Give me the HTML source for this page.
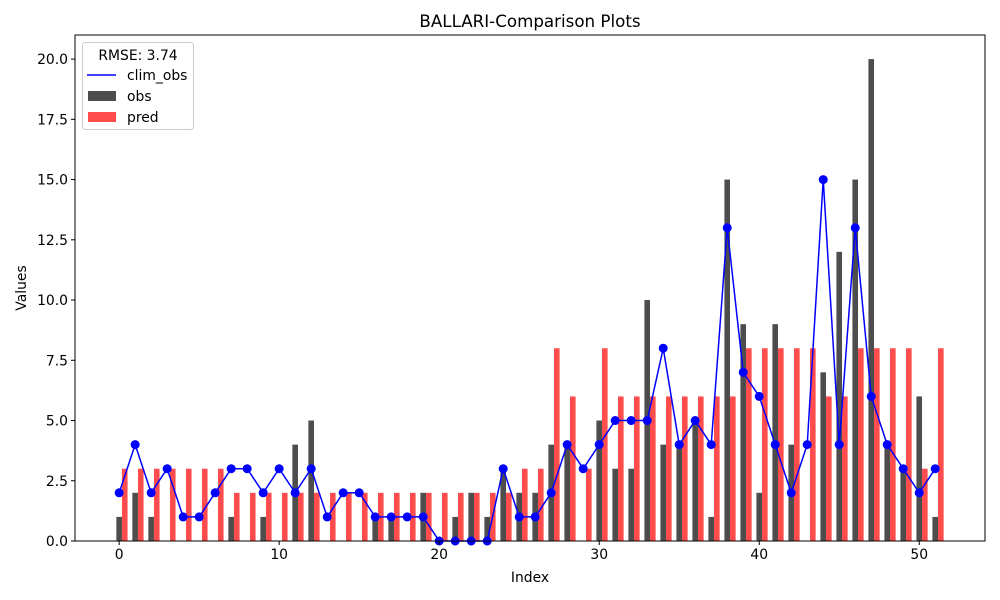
<!DOCTYPE html>
<html><head><meta charset="utf-8"><style>
body{margin:0;background:#fff;}
svg{display:block;font-family:"DejaVu Sans","Liberation Sans",sans-serif;}
</style></head><body>
<svg id="chart" width="1000" height="600" viewBox="0 0 1000 600">
<rect width="1000" height="600" fill="#fff"/>
<text x="530" y="27" text-anchor="middle" font-size="16.7" fill="#000">BALLARI-Comparison Plots</text>
<g id="bars"></g>
<g id="line"></g>
<rect x="75" y="35" width="910" height="506" fill="none" stroke="#000" stroke-width="1"/>
<g id="xticks"></g>
<g id="yticks"></g>
<text x="530" y="582" text-anchor="middle" font-size="13.9">Index</text>
<text x="26" y="288" text-anchor="middle" font-size="13.9" transform="rotate(-90 26 288)">Values</text>
<g>
<rect x="82.5" y="42.5" width="111" height="87" rx="3" fill="#fff" fill-opacity="0.8" stroke="#ccc"/>
<text x="138" y="60" text-anchor="middle" font-size="13.9">RMSE: 3.74</text>
<line x1="87" y1="75" x2="116" y2="75" stroke="#0000ff" stroke-width="1.5"/>
<text x="127" y="80" font-size="13.9">clim_obs</text>
<rect x="88" y="91" width="28" height="10" fill="#4d4d4d"/>
<text x="127" y="101" font-size="13.9">obs</text>
<rect x="88" y="112" width="28" height="10" fill="#ff4d4d"/>
<text x="127" y="122" font-size="13.9">pred</text>
</g>
</svg>
<script>
const obs=[1,2,1,0,0,0,0,1,0,1,0,4,5,0,0,0,1,1,0,2,0,1,2,1,3,2,2,4,4,0,5,3,3,10,4,4,5,1,15,9,2,9,4,0,7,12,15,20,4,3,6,1];
const pred=[3,3,3,3,3,3,3,2,2,2,2,2,2,2,2,2,2,2,2,2,2,2,2,2,2,3,3,8,6,3,8,6,6,6,6,6,6,6,6,8,8,8,8,8,6,6,8,8,8,8,3,8];
const climObs=[2,4,2,3,1,1,2,3,3,2,3,2,3,1,2,2,1,1,1,1,0,0,0,0,3,1,1,2,4,3,4,5,5,5,8,4,5,4,13,7,6,4,2,4,15,4,13,6,4,3,2,3];
const xTicks=[0,10,20,30,40,50];
const yTicks=[0,2.5,5,7.5,10,12.5,15,17.5,20];
const NS="http://www.w3.org/2000/svg";
const X0=75,X1=985,Y0=541,Y1=35,xmin=-2.76,xmax=54.11,ymin=0,ymax=21;
const sx=v=>X0+(v-xmin)/(xmax-xmin)*(X1-X0);
const sy=v=>Y0-(v-ymin)/(ymax-ymin)*(Y0-Y1);
const W=0.35;
function mk(t,a,p){const e=document.createElementNS(NS,t);for(const k in a)e.setAttribute(k,a[k]);p.appendChild(e);return e;}
const gb=document.getElementById('bars');
obs.forEach((v,i)=>{const r=mk('rect',{x:sx(i-W/2),y:sy(v),width:sx(i+W/2)-sx(i-W/2),height:sy(0)-sy(v),fill:'#4d4d4d'},gb);

});
pred.forEach((v,i)=>{const r=mk('rect',{x:sx(i+W/2),y:sy(v),width:sx(i+1.5*W)-sx(i+W/2),height:sy(0)-sy(v),fill:'#ff4d4d'},gb);

});
const gl=document.getElementById('line');
const pl=mk('polyline',{points:climObs.map((v,i)=>sx(i)+','+sy(v)).join(' '),fill:'none',stroke:'#0000ff','stroke-width':1.5},gl);


climObs.forEach((v,i)=>{const c=mk('circle',{cx:sx(i),cy:sy(v),r:4.5,fill:'#0000ff'},gl);

});
const gx=document.getElementById('xticks');
xTicks.forEach(t=>{mk('line',{x1:sx(t),x2:sx(t),y1:Y0,y2:Y0+4,stroke:'#000'},gx);
const tx=mk('text',{x:sx(t),y:Y0+18,'text-anchor':'middle','font-size':13.9},gx);tx.textContent=t;

});
const gy=document.getElementById('yticks');
yTicks.forEach(t=>{mk('line',{x1:X0-4,x2:X0,y1:sy(t),y2:sy(t),stroke:'#000'},gy);
const tx=mk('text',{x:X0-7,y:sy(t)+5,'text-anchor':'end','font-size':13.9},gy);tx.textContent=t.toFixed(1);

});
</script>
</body></html>
